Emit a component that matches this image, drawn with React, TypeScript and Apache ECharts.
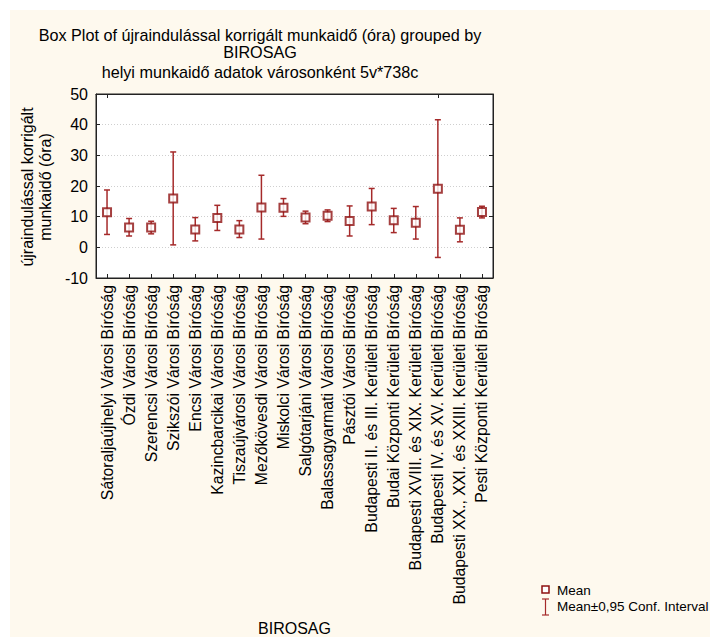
import React, { useEffect, useRef } from "react";
import * as echarts from "echarts";

const categories = [
  "Sátoraljaújhelyi Városi Bíróság",
  "Ózdi Városi Bíróság",
  "Szerencsi Városi Bíróság",
  "Szikszói Városi Bíróság",
  "Encsi Városi Bíróság",
  "Kazincbarcikai Városi Bíróság",
  "Tiszaújvárosi Városi Bíróság",
  "Mezőkövesdi Városi Bíróság",
  "Miskolci Városi Bíróság",
  "Salgótarjáni Városi Bíróság",
  "Balassagyarmati Városi Bíróság",
  "Pásztói Városi Bíróság",
  "Budapesti II. és III. Kerületi Bíróság",
  "Budai Központi Kerületi Bíróság",
  "Budapesti XVIII. és XIX. Kerületi Bíróság",
  "Budapesti IV. és XV. Kerületi Bíróság",
  "Budapesti XX., XXI. és XXIII. Kerületi Bíróság",
  "Pesti Központi Kerületi Bíróság",
];

const means = [11.4, 6.5, 6.5, 15.9, 5.8, 9.6, 5.8, 13.0, 12.9, 9.7, 10.3, 8.6, 13.3, 8.8, 8.0, 19.1, 5.7, 11.5];
const lowerCI = [4.2, 3.7, 4.4, 0.8, 2.1, 5.5, 3.2, 2.7, 10.1, 7.7, 8.4, 3.7, 7.4, 4.8, 2.7, -3.3, 1.8, 9.6];
const upperCI = [18.7, 9.4, 8.5, 31.1, 9.7, 13.7, 8.7, 23.5, 15.9, 11.8, 12.2, 13.5, 19.2, 12.7, 13.3, 41.6, 9.6, 13.4];

const yTicks = { min: -10, max: 50, interval: 10 };

const FONT = "'Liberation Sans', Arial, sans-serif";
const MEAN_COLOR = "#8e1010";
const BAR_COLOR = "#a52a2a";

export default function App() {
  const ref = useRef<HTMLDivElement>(null);

  useEffect(() => {
    if (!ref.current) return;
    const chart = echarts.init(ref.current, null, { renderer: "svg" });

    const errData = categories.map((_, i) => [i, lowerCI[i], upperCI[i]]);
    const titleStyle = { fontSize: 16.2, fontWeight: "normal", color: "#000", fontFamily: FONT };

    chart.setOption({
      animation: false,
      backgroundColor: "transparent",
      textStyle: { fontFamily: FONT },
      title: [
        {
          text: "Box Plot of újraindulással korrigált munkaidő (óra) grouped by",
          left: 255,
          top: 22,
          textAlign: "center",
          textStyle: titleStyle,
        },
        {
          text: "BIROSAG",
          left: 255,
          top: 39,
          textAlign: "center",
          textStyle: titleStyle,
        },
        {
          text: "helyi munkaidő adatok városonként 5v*738c",
          left: 255,
          top: 59,
          textAlign: "center",
          textStyle: titleStyle,
        },
      ],
      grid: {
        left: 96,
        right: 217,
        top: 94,
        bottom: 356,
        show: true,
        borderColor: "#222",
        borderWidth: 1,
        backgroundColor: "#ffffff",
      },
      xAxis: [
        {
          type: "category",
          data: categories,
          position: "bottom",
          boundaryGap: true,
          axisLine: { show: true, onZero: false, lineStyle: { color: "#222" } },
          axisTick: { show: true, inside: true, alignWithLabel: true, length: 4, lineStyle: { color: "#222" } },
          axisLabel: {
            rotate: 90,
            interval: 0,
            margin: 7,
            fontSize: 15.8,
            color: "#000",
            fontFamily: FONT,
          },
          splitLine: { show: false },
          name: "BIROSAG",
          nameLocation: "middle",
          nameGap: 342,
          nameTextStyle: { fontSize: 16, color: "#000", fontFamily: FONT },
        },
        {
          type: "category",
          data: categories,
          position: "top",
          boundaryGap: true,
          axisLine: { show: true, onZero: false, lineStyle: { color: "#222" } },
          axisTick: { show: true, inside: true, alignWithLabel: true, length: 4, lineStyle: { color: "#222" } },
          axisLabel: { show: false },
        },
      ],
      yAxis: [
        {
          type: "value",
          min: yTicks.min,
          max: yTicks.max,
          interval: yTicks.interval,
          axisLine: { show: true, onZero: false, lineStyle: { color: "#222" } },
          axisTick: { show: true, inside: true, length: 4, lineStyle: { color: "#222" } },
          axisLabel: { fontSize: 16, color: "#000", margin: 8, fontFamily: FONT },
          splitLine: { show: true, lineStyle: { color: "#cfcfcf", type: [1, 2], width: 1 } },
        },
        {
          type: "value",
          position: "right",
          min: yTicks.min,
          max: yTicks.max,
          interval: yTicks.interval,
          axisLine: { show: true, onZero: false, lineStyle: { color: "#222" } },
          axisTick: { show: true, inside: true, length: 4, lineStyle: { color: "#222" } },
          axisLabel: { show: false },
          splitLine: { show: false },
        },
      ],
      graphic: [
        {
          type: "text",
          x: 36,
          y: 187,
          rotation: Math.PI / 2,
          style: {
            text: "újraindulással korrigált\nmunkaidő (óra)",
            fontSize: 16,
            fontFamily: FONT,
            fill: "#000",
            align: "center",
            verticalAlign: "middle",
            lineHeight: 18,
          },
        },
        // legend: mean marker
        {
          type: "rect",
          shape: { x: 542, y: 586, width: 7, height: 7 },
          style: { fill: "#fff", stroke: MEAN_COLOR, lineWidth: 1.5 },
        },
        {
          type: "text",
          x: 557,
          y: 590,
          style: { text: "Mean", fontSize: 13.5, fontFamily: FONT, fill: "#000", verticalAlign: "middle" },
        },
        // legend: confidence interval whisker
        {
          type: "line",
          shape: { x1: 545.5, y1: 599, x2: 545.5, y2: 615 },
          style: { stroke: BAR_COLOR, lineWidth: 1.2 },
        },
        {
          type: "line",
          shape: { x1: 542, y1: 599, x2: 549, y2: 599 },
          style: { stroke: BAR_COLOR, lineWidth: 1.2 },
        },
        {
          type: "line",
          shape: { x1: 542, y1: 615, x2: 549, y2: 615 },
          style: { stroke: BAR_COLOR, lineWidth: 1.2 },
        },
        {
          type: "text",
          x: 557,
          y: 606,
          style: {
            text: "Mean±0,95 Conf. Interval",
            fontSize: 13.5,
            fontFamily: FONT,
            fill: "#000",
            verticalAlign: "middle",
          },
        },
      ],
      series: [
        {
          type: "custom",
          name: "Mean±0,95 Conf. Interval",
          xAxisIndex: 0,
          yAxisIndex: 0,
          data: errData,
          z: 2,
          renderItem: (params: any, api: any) => {
            const x = api.value(0);
            const lo = api.coord([x, api.value(1)]);
            const hi = api.coord([x, api.value(2)]);
            const half = 3;
            const stroke = { stroke: BAR_COLOR, lineWidth: 1.5 };
            return {
              type: "group",
              children: [
                { type: "line", shape: { x1: lo[0], y1: lo[1], x2: hi[0], y2: hi[1] }, style: stroke },
                { type: "line", shape: { x1: hi[0] - half, y1: hi[1], x2: hi[0] + half, y2: hi[1] }, style: stroke },
                { type: "line", shape: { x1: lo[0] - half, y1: lo[1], x2: lo[0] + half, y2: lo[1] }, style: stroke },
              ],
            };
          },
        },
        {
          type: "scatter",
          name: "Mean",
          xAxisIndex: 0,
          yAxisIndex: 0,
          data: means,
          symbol: "rect",
          symbolSize: 8,
          z: 3,
          itemStyle: { color: "#ffffff", borderColor: MEAN_COLOR, borderWidth: 2 },
        },
      ],
    });

    return () => chart.dispose();
  }, []);

  return (
    <div style={{ position: "fixed", left: 0, top: 0, width: 710, height: 637, background: "#ffffff" }}>
      <div
        style={{ position: "absolute", left: 10, top: 10, right: 0, bottom: 0, background: "#fef9ee" }}
      />
      <div ref={ref} style={{ position: "absolute", left: 0, top: 0, width: 710, height: 637 }} />
    </div>
  );
}
